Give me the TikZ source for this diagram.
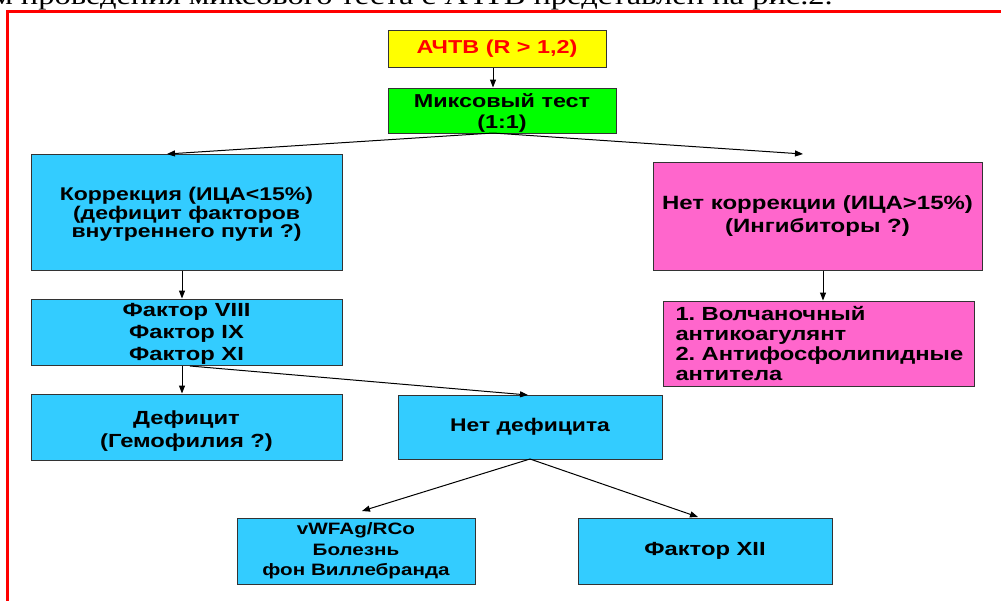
\documentclass[tikz,border=0pt]{standalone}
\usepackage{fontspec}
\setmainfont{Liberation Sans}[FakeStretch=1.25]
\newfontfamily\topserif{Liberation Serif}[FakeStretch=1.25]
\usetikzlibrary{arrows.meta}
\definecolor{cyanbox}{HTML}{33CCFF}
\definecolor{pinkbox}{HTML}{FF66CC}
\definecolor{greenbox}{HTML}{00FF00}
\definecolor{yellowbox}{HTML}{FFFF00}
\definecolor{framered}{HTML}{FF0000}
\definecolor{edgegray}{HTML}{333333}
\newcommand{\bx}[2]{\fontsize{#1}{#2}\selectfont\bfseries}
\newcommand{\lowerby}[1]{\rule{0pt}{#1}}
\tikzset{
  x=1pt, y=-1pt,
  box/.style={draw=edgegray, line width=1pt, inner sep=0pt, align=center,
    font={\bx{16}{22}}},
  arr/.style={draw=black, line width=1pt, -{Triangle[length=8pt,width=6pt]}},
}
\begin{document}
\begin{tikzpicture}
\clip (0,0) rectangle (1001,600);
\fill[white] (0,0) rectangle (1001,600);
% red frame
\draw[framered, line width=3.3pt] (1020,11.5) -- (7.7,11.5) -- (7.7,620);
% clipped caption line
\node[anchor=base east, inner sep=0pt, font={\fontsize{26}{30}\topserif}] (cap) at (833,4)
  {м проведения миксового теста с АЧТВ представлен на рис.2.};
% boxes
\node[box, fill=yellowbox, minimum width=218, minimum height=37, text=framered,
  font={\bx{18.7}{22}}] (A) at (497,48.5) {АЧТВ (R > 1,2)};
\node[box, fill=greenbox, minimum width=228, minimum height=45,
  font={\bx{18.7}{21.5}}] (M) at (502,110.5)
  {\lowerby{18.5pt}Миксовый тест\\(1:1)};
\node[box, fill=cyanbox, minimum width=311, minimum height=116,
  font={\bx{18.4}{18.5}}] (K) at (186.5,212)
  {\lowerby{18pt}Коррекция (ИЦА<15\%)\\(дефицит факторов\\внутреннего пути ?)};
\node[box, fill=pinkbox, minimum width=329, minimum height=108,
  font={\bx{19.2}{22.5}}] (N) at (817.5,216)
  {Нет коррекции (ИЦА>15\%)\\(Ингибиторы ?)};
\node[box, fill=cyanbox, minimum width=311, minimum height=66,
  font={\bx{19}{22}}] (F) at (186.5,332)
  {\lowerby{17.5pt}Фактор VIII\\Фактор IX\\Фактор XI};
\node[box, fill=cyanbox, minimum width=311, minimum height=66,
  font={\bx{19}{23.5}}] (D) at (186.5,427)
  {\lowerby{22pt}Дефицит\\(Гемофилия ?)};
\node[box, fill=pinkbox, anchor=west, inner xsep=12pt, text width=287, align=left,
  minimum height=85, font={\bx{19}{20.3}}] (L) at (663,343.5)
  {1.~Волчаночный\\антикоагулянт\\2.~Антифосфолипидные\\антитела};
\node[box, fill=cyanbox, minimum width=264, minimum height=64,
  font={\bx{18.3}{22}}] (ND) at (530,427)
  {Нет дефицита};
\node[box, fill=cyanbox, minimum width=238, minimum height=66,
  font={\bx{16.5}{20.5}}] (V) at (356,551)
  {vWFAg/RCo\\Болезнь\\фон Виллебранда};
\node[box, fill=cyanbox, minimum width=254, minimum height=66,
  font={\bx{19}{22}}] (X) at (705,551)
  {Фактор XII};
% connector end points
\coordinate (mb) at (493,133);
\coordinate (kt) at (167,154);
\coordinate (nt) at (803,154);
\coordinate (fb) at (190,366);
\coordinate (ndt) at (528,395);
\coordinate (ndb) at (530,459);
\coordinate (vt) at (362,511);
\coordinate (xt) at (698,517);
% connectors
\draw[arr] ([xshift=-4pt]A.south) -- ([xshift=-4pt]A.south |- M.north);
\draw[arr] (mb) -- (kt);
\draw[arr] (mb) -- (nt);
\draw[arr] ([xshift=-4.5pt]K.south) -- ([xshift=-4.5pt]K.south |- F.north);
\draw[arr] ([xshift=-4.5pt]F.south) -- ([xshift=-4.5pt]F.south |- D.north);
\draw[arr] (fb) -- (ndt);
\draw[arr] ([xshift=5.5pt]N.south) -- ([xshift=5.5pt]N.south |- L.north);
\draw[arr] (ndb) -- (vt);
\draw[arr] (ndb) -- (xt);
\end{tikzpicture}
\end{document}
